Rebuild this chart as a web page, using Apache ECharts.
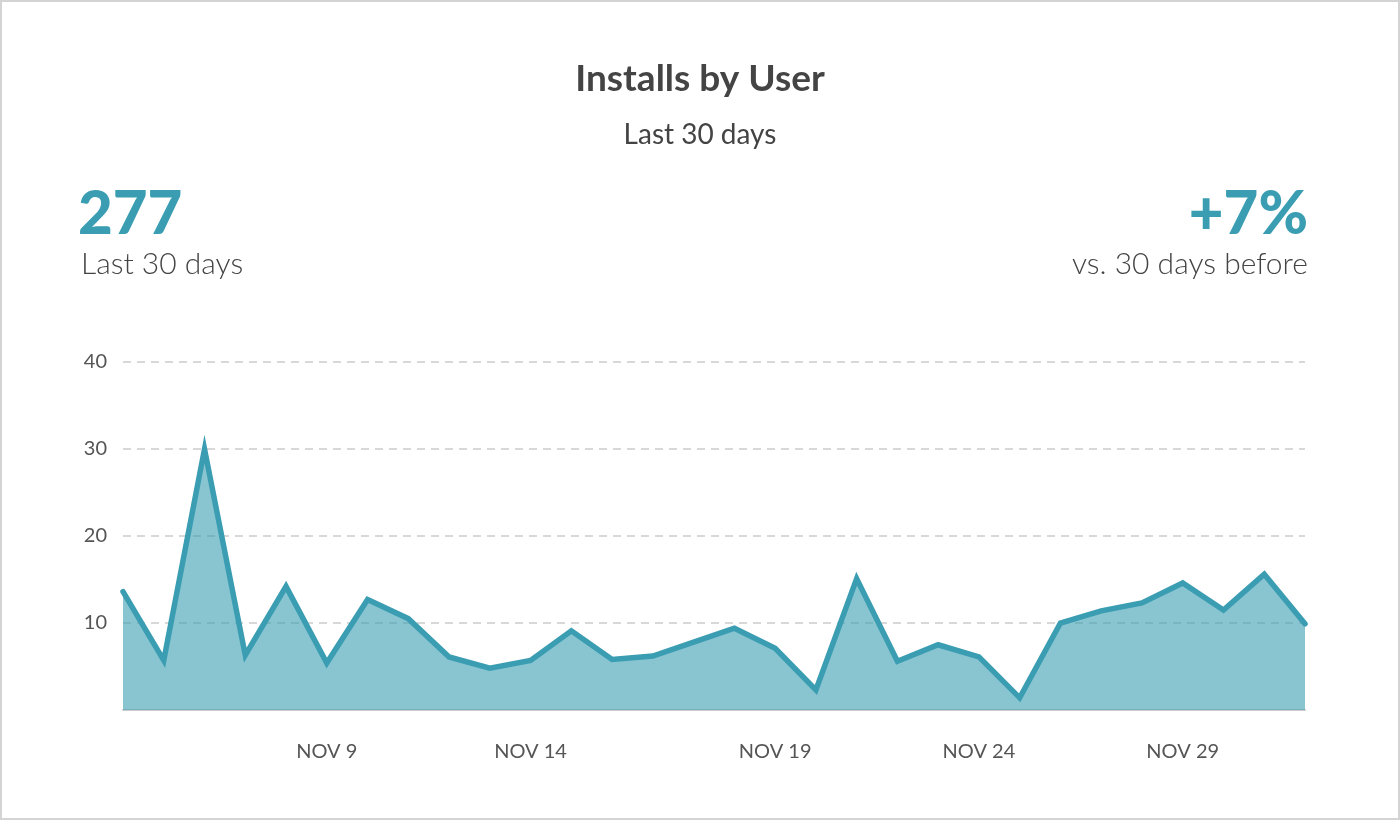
<!DOCTYPE html>
<html lang="en">
<head>
    <meta charset="UTF-8">
    <title>Installs by User</title>
    <script type="text/javascript" src="https://cdn.jsdelivr.net/npm/echarts@6/dist/echarts.min.js"></script>
    <style>
        html, body { margin: 0; padding: 0; background: #fff; }
        #main { width: 1396px; height: 816px; border: 2px solid #d4d4d4; }
    </style>
</head>
<body>
    <div id="main"></div>
    <script type="text/javascript">

    var teal = '#3a9db2';
    var textGrey = '#444444';
    var fontName = 'Lato, "Open Sans", sans-serif';

    // 30 days, first day Nov 4
    var days = ['NOV 4', 'NOV 5', 'NOV 6', 'NOV 7', 'NOV 8', 'NOV 9', 'NOV 10', 'NOV 11', 'NOV 12', 'NOV 13',
                'NOV 14', 'NOV 15', 'NOV 16', 'NOV 17', 'NOV 18', 'NOV 19', 'NOV 20', 'NOV 21', 'NOV 22', 'NOV 23',
                'NOV 24', 'NOV 25', 'NOV 26', 'NOV 27', 'NOV 28', 'NOV 29', 'NOV 30', 'DEC 1', 'DEC 2', 'DEC 3'];
    var installs = [13.6, 5.7, 30, 6.3, 14.2, 5.4, 12.7, 10.5, 6.1, 4.8,
                    5.7, 9.1, 5.8, 6.2, 7.8, 9.4, 7.1, 2.3, 15.1, 5.6,
                    7.5, 6.1, 1.4, 10, 11.4, 12.3, 14.6, 11.5, 15.6, 9.9];

    // x tick labels as shown in the picture (index into days -> text)
    var tickIndex = [5, 10, 16, 21, 26];
    var tickText = ['NOV 9', 'NOV 14', 'NOV 19', 'NOV 24', 'NOV 29'];

    var yTicks = [10, 20, 30, 40];

    var option = {
        backgroundColor: '#fff',
        animation: false,
        textStyle: { fontFamily: fontName },
        title: [
            {
                text: 'Installs by User',
                left: 'center', top: 54,
                textStyle: { fontSize: 37, fontWeight: 'bold', color: textGrey, fontFamily: fontName }
            },
            {
                text: 'Last 30 days',
                left: 'center', top: 114,
                textStyle: { fontSize: 28, fontWeight: 'normal', color: textGrey, fontFamily: fontName }
            },
            {
                text: '277',
                left: 71, top: 178,
                textStyle: { fontSize: 60, fontWeight: 900, color: teal, fontFamily: fontName }
            },
            {
                text: 'Last 30 days',
                left: 74, top: 242,
                textStyle: { fontSize: 30, fontWeight: 300, color: textGrey, fontFamily: fontName }
            },
            {
                text: '+7%',
                right: 85, top: 178,
                textStyle: { fontSize: 60, fontWeight: 900, color: teal, fontFamily: fontName }
            },
            {
                text: 'vs. 30 days before',
                right: 85, top: 242,
                textStyle: { fontSize: 30, fontWeight: 300, color: textGrey, fontFamily: fontName }
            }
        ],
        grid: {
            left: 121,
            right: 93,
            top: 360,
            bottom: 108
        },
        xAxis: {
            type: 'category',
            boundaryGap: false,
            data: days,
            axisLine: { show: true, lineStyle: { color: '#cccccc', width: 2 } },
            axisTick: { show: false },
            axisLabel: {
                margin: 32,
                fontSize: 20,
                color: '#555555',
                fontFamily: fontName,
                interval: function (index) { return tickIndex.indexOf(index) !== -1; },
                formatter: function (value, index) {
                    var k = tickIndex.indexOf(index);
                    return k === -1 ? '' : tickText[k];
                }
            },
            splitLine: { show: false }
        },
        yAxis: {
            type: 'value',
            min: 0,
            max: 40,
            interval: 10,
            axisLine: { show: false },
            axisTick: { show: false },
            axisLabel: {
                margin: 16,
                fontSize: 20,
                color: '#555555',
                fontFamily: fontName,
                formatter: function (v) { return yTicks.indexOf(v) === -1 ? '' : String(v); }
            },
            splitLine: {
                show: true,
                lineStyle: { color: '#cccccc', type: [8, 6], width: 1.5 }
            }
        },
        series: [
            {
                name: 'Installs',
                type: 'line',
                data: installs,
                symbol: 'none',
                lineStyle: { color: teal, width: 5.5, join: 'miter', cap: 'round' },
                areaStyle: { color: teal, opacity: 0.6 },
                z: 3
            }
        ]
    };

    var myChart = echarts.init(document.getElementById('main'));
    myChart.setOption(option);
    </script>
</body>
</html>
